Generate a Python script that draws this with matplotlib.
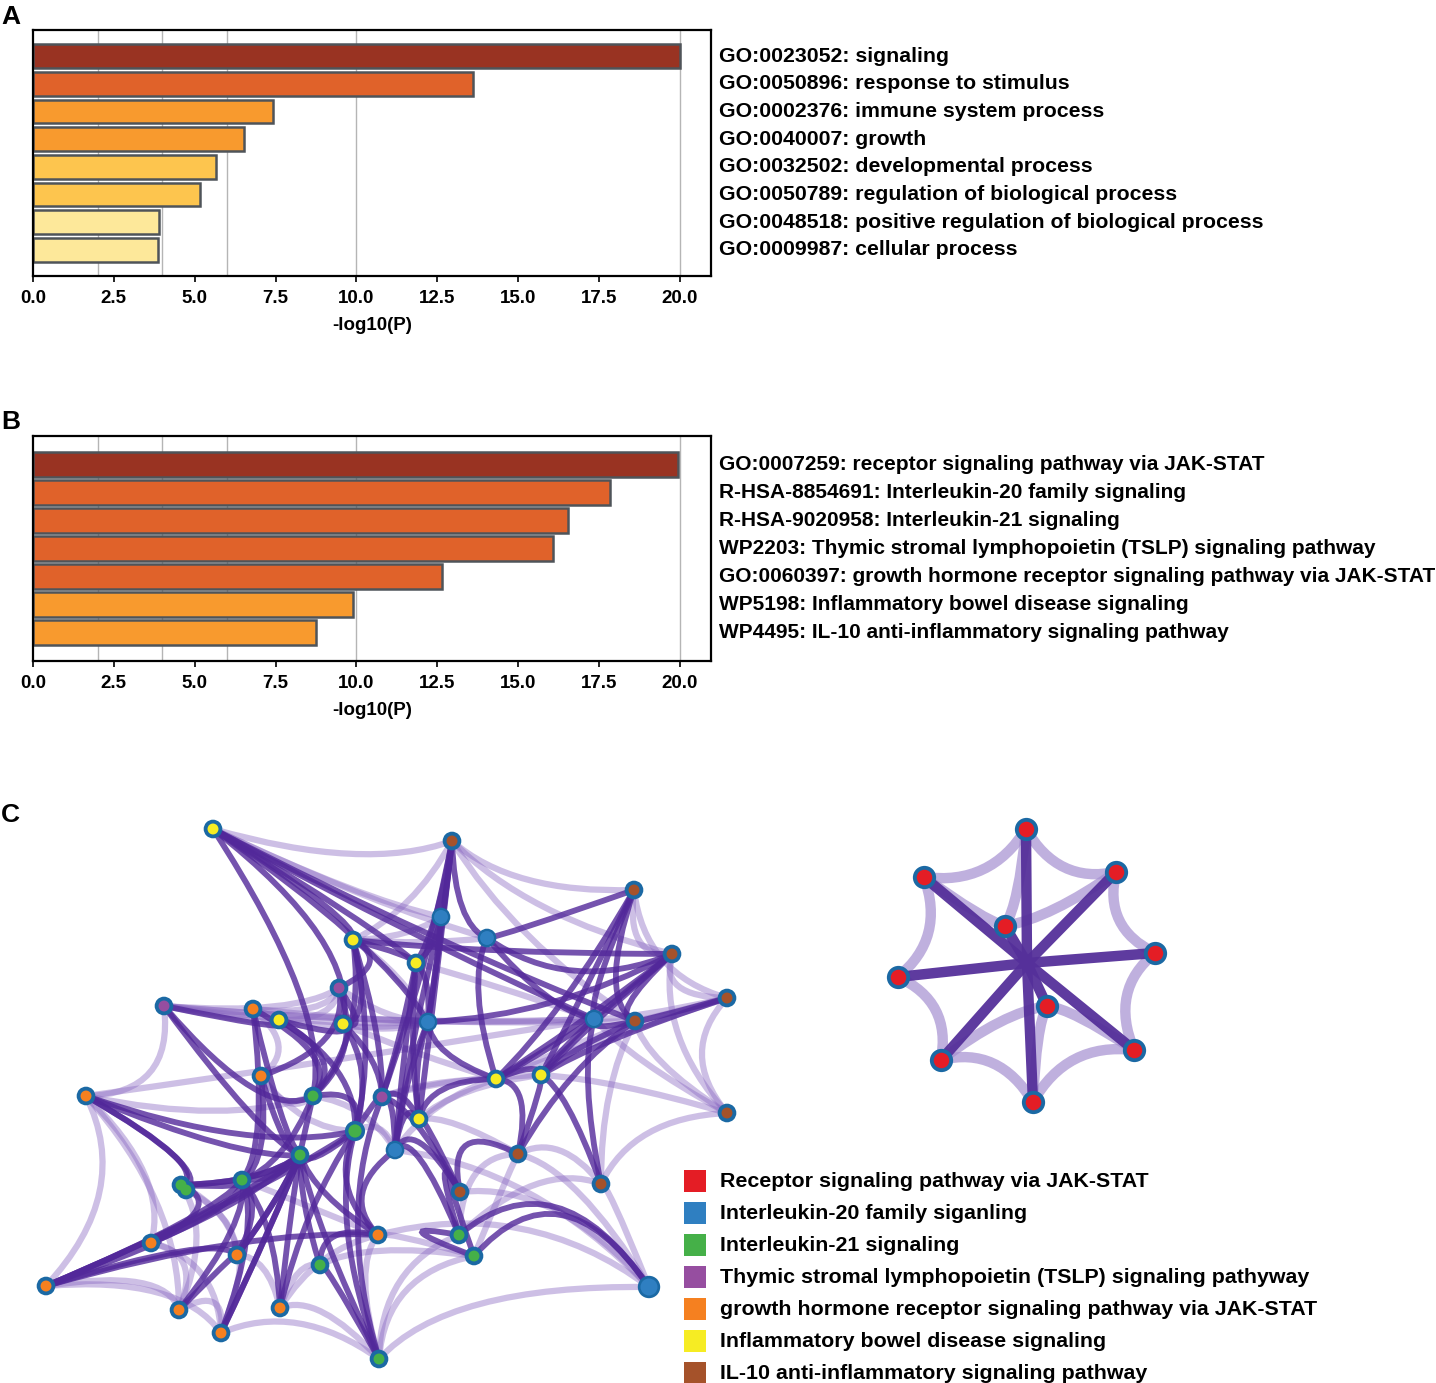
import numpy as np
import matplotlib
matplotlib.use("Agg")
import matplotlib.pyplot as plt
from matplotlib.path import Path
from matplotlib.patches import PathPatch

plt.rcParams['font.family'] = ['Liberation Sans', 'DejaVu Sans']
plt.rcParams['font.weight'] = 'bold'

# ---- panel A data ----
go_terms = ["GO:0023052: signaling",
            "GO:0050896: response to stimulus",
            "GO:0002376: immune system process",
            "GO:0040007: growth",
            "GO:0032502: developmental process",
            "GO:0050789: regulation of biological process",
            "GO:0048518: positive regulation of biological process",
            "GO:0009987: cellular process"]
go_logp = [20.0, 13.6, 7.41, 6.52, 5.65, 5.15, 3.89, 3.85]
go_colors = ["#993322", "#e0622a", "#f89a2e", "#f89a2e",
             "#fdc54e", "#fdc54e", "#fde89a", "#fde89a"]

# ---- panel B data ----
path_terms = ["GO:0007259: receptor signaling pathway via JAK-STAT",
              "R-HSA-8854691: Interleukin-20 family signaling",
              "R-HSA-9020958: Interleukin-21 signaling",
              "WP2203: Thymic stromal lymphopoietin (TSLP) signaling pathway",
              "GO:0060397: growth hormone receptor signaling pathway via JAK-STAT",
              "WP5198: Inflammatory bowel disease signaling",
              "WP4495: IL-10 anti-inflammatory signaling pathway"]
path_logp = [19.95, 17.85, 16.55, 16.08, 12.65, 9.88, 8.76]
path_colors = ["#993322", "#e0622a", "#e0622a", "#e0622a", "#e0622a",
               "#f89a2e", "#f89a2e"]

xticks = [0.0, 2.5, 5.0, 7.5, 10.0, 12.5, 15.0, 17.5, 20.0]
grid_x = [2, 4, 6, 10, 20]

# ---- panel C data (pixel positions) ----
node_x = [213, 452, 634, 441, 487, 353, 672, 416, 339, 164, 253, 279, 727, 343,
          428, 594, 635, 261, 86, 313, 382, 496, 541, 419, 355, 727, 395, 300,
          518, 242, 181, 186, 460, 601, 151, 237, 378, 459, 474, 320, 46, 649,
          179, 280, 221, 379]
node_y = [829, 841, 890, 917, 938, 940, 954, 963, 988, 1006, 1009, 1020, 998, 1024,
          1022, 1019, 1021, 1076, 1096, 1096, 1097, 1079, 1075, 1119, 1131, 1113,
          1150, 1155, 1154, 1180, 1185, 1190, 1192, 1184, 1243, 1255, 1235, 1235,
          1256, 1265, 1286, 1287, 1310, 1308, 1333, 1359]
node_group = ["Y", "Br", "Br", "Bl", "Bl", "Y", "Br", "Y", "P", "P", "O", "Y", "Br", "Y",
              "Bl", "Bl", "Br", "O", "O", "G", "P", "Y", "Y", "Y", "G", "Br", "Bl", "G",
              "Br", "G", "G", "G", "Br", "Br", "O", "O", "O", "G", "G", "G", "O", "Bl",
              "O", "O", "O", "G"]

strong_edges = [(0, 5), (0, 7), (0, 15), (0, 13), (0, 19), (0, 16),
                (1, 3), (1, 7), (1, 23), (1, 4), (1, 14),
                (2, 15), (2, 22), (2, 21), (2, 4),
                (3, 7), (3, 14), (3, 26),
                (4, 15), (4, 21), (4, 6),
                (5, 8), (5, 13), (5, 20), (5, 19), (5, 7),
                (6, 15), (6, 16), (6, 21), (6, 14), (6, 5),
                (7, 14), (7, 23), (7, 20),
                (8, 13), (8, 19), (8, 17),
                (9, 27), (9, 11), (9, 19),
                (10, 29), (10, 27), (10, 19),
                (11, 13), (11, 19), (11, 24),
                (13, 20), (13, 24),
                (14, 23), (14, 21), (14, 26),
                (15, 16), (15, 22), (15, 21), (15, 33),
                (16, 22), (17, 29), (17, 27),
                (18, 30), (18, 31), (18, 27), (18, 24),
                (19, 27), (19, 24), (19, 29),
                (20, 24), (20, 23), (20, 26), (20, 32),
                (21, 22), (21, 23), (21, 28),
                (22, 33), (22, 28), (23, 26), (23, 32),
                (24, 27), (24, 36), (26, 32), (26, 37),
                (27, 29), (27, 30), (27, 34), (27, 35), (27, 43), (27, 44),
                (29, 30), (29, 34), (29, 35), (30, 34),
                (32, 37), (32, 38), (34, 40), (35, 40), (29, 40), (27, 40), (24, 40),
                (36, 27), (36, 39), (37, 38), (37, 41), (38, 41),
                (39, 27), (39, 45), (42, 35), (42, 29), (43, 29), (44, 27), (44, 29),
                (45, 27), (45, 24), (28, 32), (28, 16), (22, 12),
                (2, 16), (6, 22), (12, 16), (0, 14), (1, 20), (7, 26), (5, 24),
                (36, 26), (35, 27), (30, 27), (40, 36), (43, 24), (45, 20)]

light_edges = [(9, 10), (9, 15), (9, 14), (9, 18), (9, 11), (9, 8),
               (18, 34), (18, 40), (18, 42), (18, 19),
               (40, 42), (40, 44), (42, 44), (34, 42), (34, 44), (35, 44), (35, 43),
               (43, 45), (44, 45), (39, 43), (36, 45), (38, 45), (37, 45), (45, 41),
               (41, 28), (41, 33), (41, 32), (41, 26), (41, 36),
               (12, 16), (12, 15), (12, 6), (12, 25), (12, 2), (12, 21),
               (25, 16), (25, 15), (25, 22), (25, 33), (25, 6),
               (2, 6), (1, 2), (1, 6), (1, 5), (0, 1), (0, 3),
               (33, 28), (33, 37), (33, 16), (10, 11), (10, 17), (11, 8), (8, 10),
               (16, 21), (3, 5), (4, 5), (5, 14), (13, 14), (11, 14), (10, 15),
               (21, 26), (22, 23), (23, 28), (28, 37), (28, 38),
               (29, 36), (30, 35), (31, 35), (30, 42), (20, 21), (20, 22), (17, 19),
               (17, 24), (24, 26), (19, 26), (13, 21), (8, 14), (9, 16), (18, 15),
               (0, 4), (1, 16), (7, 15), (36, 38), (39, 38), (43, 36)]

bundle_hubs = [(290, 1195), (400, 1060), (560, 1045), (440, 960)]

jak_x = [1026, 924, 1116, 1005, 1155, 898, 1047, 941, 1134, 1033]
jak_y = [829, 877, 872, 926, 953, 977, 1006, 1060, 1050, 1102]
jak_hub = (1027, 963)
jak_ring = [(0, 2), (2, 4), (4, 8), (8, 9), (9, 7), (7, 5), (5, 1), (1, 0),
            (3, 0), (3, 2), (6, 8), (6, 9), (6, 7), (3, 1)]

legend_labels = ["Receptor signaling pathway via JAK-STAT",
                 "Interleukin-20 family siganling",
                 "Interleukin-21 signaling",
                 "Thymic stromal lymphopoietin (TSLP) signaling pathyway",
                 "growth hormone receptor signaling pathway via JAK-STAT",
                 "Inflammatory bowel disease signaling",
                 "IL-10 anti-inflammatory signaling pathway"]
legend_groups = ["R", "Bl", "G", "P", "O", "Y", "Br"]

group_colors = {"R": "#e41d25", "Bl": "#2f7fc1", "G": "#45b048", "P": "#964ea0",
                "O": "#f58020", "Y": "#f6ec23", "Br": "#a5522a"}

W, H = 1436, 1383
fig = plt.figure(figsize=(W / 100, H / 100), dpi=100)


def px_axes(x0, y0, x1, y1):
    return fig.add_axes([x0 / W, 1 - y1 / H, (x1 - x0) / W, (y1 - y0) / H])


def bar_panel(ax, terms, vals, colors, pad, height, fs):
    n = len(terms)
    ypos = np.arange(n)
    for g in grid_x:
        ax.axvline(g, color="#b5b5b5", lw=1, zorder=0)
    ax.barh(ypos, vals, height=height, color=colors, edgecolor="#4f5459",
            linewidth=1.8, zorder=2)
    ax.set_xlim(0, 20.96)
    ax.set_ylim(n - 1 + pad, -pad)
    ax.set_yticks([])
    ax.set_xticks(xticks)
    ax.set_xticklabels(["%.1f" % t for t in xticks], fontsize=13.5, fontweight="bold")
    ax.tick_params(axis="x", length=4, width=1.2, pad=6)
    ax.set_xlabel("-log10(P)", fontsize=13.5, fontweight="bold", labelpad=7)
    for s in ax.spines.values():
        s.set_linewidth(1.6)
    for i, t in enumerate(terms):
        ax.text(1.0118, i, t, transform=ax.get_yaxis_transform(), va="center",
                ha="left", fontsize=fs, fontweight="bold")


axA = px_axes(33, 30, 711, 276)
bar_panel(axA, go_terms, go_logp, go_colors, 0.94, 0.86, 15.3)
axB = px_axes(33, 436, 711, 661)
bar_panel(axB, path_terms, path_logp, path_colors, 1.03, 0.88, 15.0)

for letter, y in [("A", 17), ("B", 422), ("C", 815)]:
    fig.text(1 / W, 1 - y / H, letter, fontsize=19, fontweight="bold", va="center")

# ---- network ----
axC = px_axes(0, 790, W, H)
axC.set_xlim(0, W)
axC.set_ylim(H, 790)
axC.axis("off")


def curve(ax, p0, p2, c, color, lw, alpha, z):
    path = Path([p0, c, p2], [Path.MOVETO, Path.CURVE3, Path.CURVE3])
    ax.add_patch(PathPatch(path, fc="none", ec=color, lw=lw, alpha=alpha,
                           capstyle="round", zorder=z))


def ctrl(p0, p2, w):
    mid = (np.array(p0) + np.array(p2)) / 2.0
    hubs = np.array(bundle_hubs, dtype=float)
    h = hubs[np.argmin(((hubs - mid) ** 2).sum(axis=1))]
    return mid + w * (h - mid)


for i, j in light_edges:
    p0, p2 = (node_x[i], node_y[i]), (node_x[j], node_y[j])
    curve(axC, p0, p2, ctrl(p0, p2, 0.3), "#8a68c2", 4.5, 0.42, 1)
for i, j in strong_edges:
    p0, p2 = (node_x[i], node_y[i]), (node_x[j], node_y[j])
    curve(axC, p0, p2, ctrl(p0, p2, 0.5), "#52289a", 4.2, 0.8, 2)

sizes = [260 if i == 41 else 180 for i in range(len(node_group))]
sizes[24] = 210
axC.scatter(node_x, node_y, s=sizes, c="#1b69a4", zorder=5, linewidths=0)
inner = [group_colors[g] for g in node_group]
inner_s = [150 if i == 41 else (100 if g == "Bl" else 62)
           for i, g in enumerate(node_group)]
inner_s[24] = 90
axC.scatter(node_x, node_y, s=inner_s, c=inner, zorder=6, linewidths=0)

# JAK-STAT cluster
hub = np.array(jak_hub, dtype=float)
for i, j in jak_ring:
    p0 = np.array((jak_x[i], jak_y[i]), dtype=float)
    p2 = np.array((jak_x[j], jak_y[j]), dtype=float)
    mid = (p0 + p2) / 2
    curve(axC, p0, p2, mid + 0.3 * (hub - mid), "#a58fd0", 7.5, 0.7, 1)
for x, y in zip(jak_x, jak_y):
    axC.plot([x, jak_hub[0]], [y, jak_hub[1]], color="#55309a", lw=7.5,
             alpha=0.95, solid_capstyle="round", zorder=2)
axC.scatter(jak_x, jak_y, s=280, c="#1b69a4", zorder=5, linewidths=0)
axC.scatter(jak_x, jak_y, s=125, c=group_colors["R"], zorder=6, linewidths=0)

# legend
for k, (lab, g) in enumerate(zip(legend_labels, legend_groups)):
    y = 1181 + 32 * k
    axC.scatter([695], [y], s=230, marker="s", c=group_colors[g], linewidths=0, zorder=6)
    axC.text(720, y, lab, fontsize=15.4, fontweight="bold", va="center", ha="left")

fig.savefig("out.png", dpi=100)
